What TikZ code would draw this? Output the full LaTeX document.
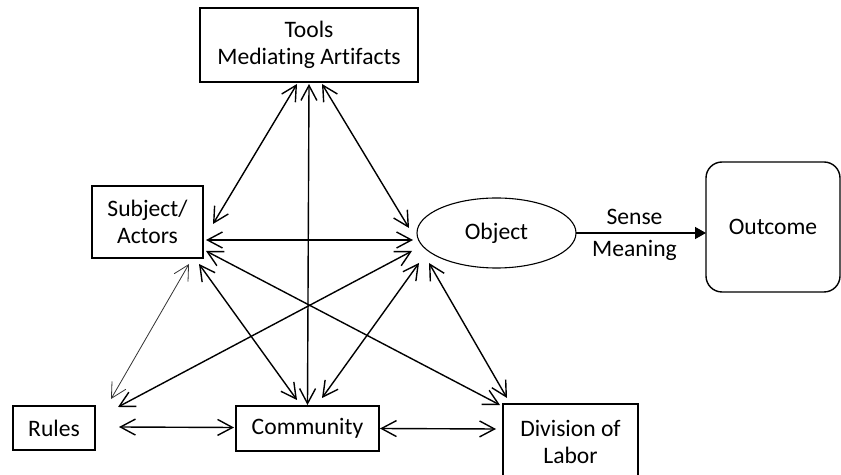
\documentclass[tikz,border=0pt]{standalone}
\usepackage{fontspec}
\setmainfont{Carlito}[Ligatures=NoCommon]
\usetikzlibrary{arrows.meta,shapes.geometric,calc}
\begin{document}
\begin{tikzpicture}[x=0.5pt,y=-0.5pt,
  box/.style={draw, line width=0.55pt, inner sep=0pt, outer sep=0pt, align=center,
    font=\fontsize{11.8}{13.8}\selectfont},
  link/.style={<->, >={Straight Barb[length=7.5pt,width=8pt]}, line width=0.7pt},
  thinlink/.style={link, line width=0.4pt, black!80}]
  \clip (0,0) rectangle (841,475);

  \node[box, minimum width=109pt, minimum height=37pt] (tools) at (309,45) {Tools\\Mediating Artifacts};
  \node[box, minimum width=55.5pt, minimum height=36pt] (subj) at (147.5,222) {Subject/\\Actors};
  \node[box, ellipse, minimum width=79.5pt, minimum height=35pt] (obj) at (496.5,233) {Object};
  \node[box, line width=0.7pt, rounded corners=8pt, minimum width=67pt, minimum height=65pt] (outc) at (773,227) {Outcome};
  \node[box, minimum width=41pt, minimum height=22pt] (rules) at (54,428) {Rules};
  \node[box, minimum width=71.5pt, minimum height=22.5pt] (comm) at (307.5,428.5) {Community};
  \node[box, minimum width=67.5pt, minimum height=38pt] (div) at (570.5,442) {Division of\\Labor};

  % tools
  \draw[link] ($(tools.south)+(-12,2)$) -- ($(subj.east)+(10,2)$);
  \draw[link] ($(tools.south)+(0,2)$) -- ($(comm.north)+(0,-1)$);
  \draw[link] ($(tools.south)+(13,2)$) -- ($(obj.west)+(-8,-5)$);
  % subject
  \draw[link] ($(subj.south east)+(3,-18)$) -- ($(obj.west)+(-4,7)$);
  \draw[thinlink] ($(subj.south east)+(-14,6)$) -- ($(rules.north east)+(16,-7)$);
  \draw[link] ($(subj.south east)+(-4,6)$) -- ($(comm.north)+(-10.5,-6)$);
  \draw[link] ($(subj.south east)+(3,-7)$) -- ($(div.north west)+(-3,1)$);
  % object
  \draw[link] ($(rules.north east)+(23,1)$) -- ($(obj.west)+(-5,18)$);
  \draw[link] ($(comm.north)+(14.5,-8)$) -- ($(obj.west)+(2,30)$);
  \draw[link] ($(div.north west)+(4,-6)$) -- ($(obj.west)+(12,30)$);
  % bottom row
  \draw[link] ($(rules.east)+(24,-1)$) -- ($(comm.west)+(-2,-1)$);
  \draw[link] ($(comm.east)+(1,0)$) -- ($(div.west)+(-7,-13)$);

  \draw[-{Triangle[length=5.5pt,width=6pt]}, line width=0.7pt] (obj.east) -- (obj.east -| outc.west)
    node[pos=0.45, above=3.7pt, inner sep=0pt, font=\fontsize{11.8}{13.8}\selectfont] {Sense}
    node[pos=0.45, below=3.2pt, inner sep=0pt, font=\fontsize{11.8}{13.8}\selectfont] {Meaning};
\end{tikzpicture}
\end{document}
